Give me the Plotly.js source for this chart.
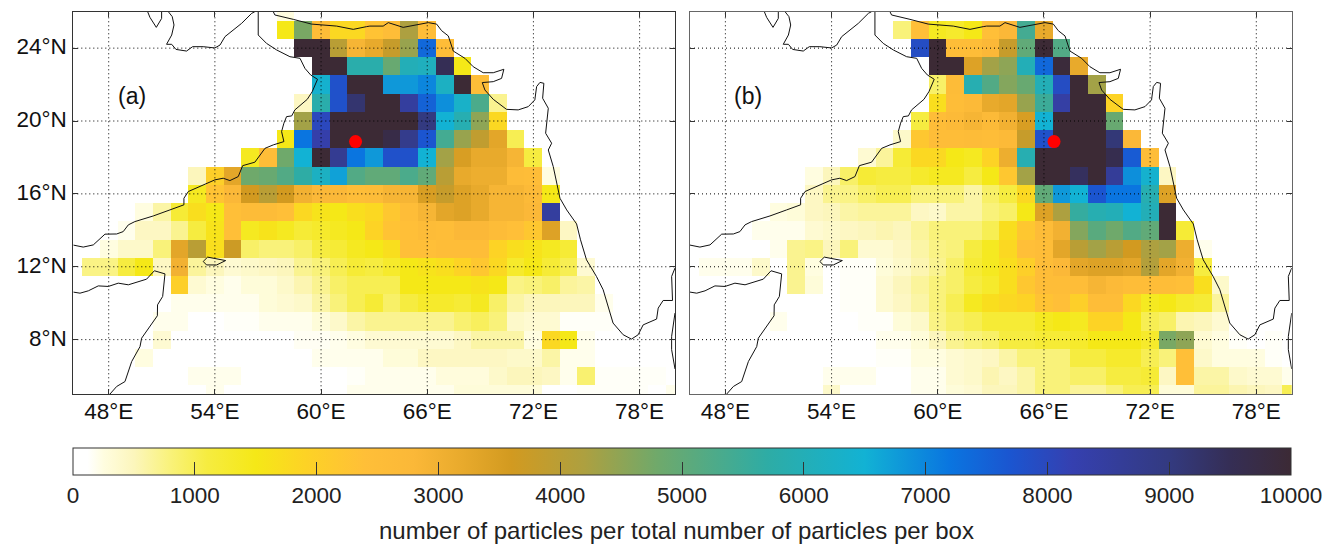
<!DOCTYPE html>
<html><head><meta charset="utf-8">
<script src="https://cdn.plot.ly/plotly-3.0.1.min.js"></script>
<style>html,body{margin:0;padding:0;background:#fff}</style></head>
<body><div id="chart" style="width:1327px;height:544px"></div>
<script>
const lons=[];for(let v=46;v<=80;v++)lons.push(v);
const lats=[];for(let v=5;v<=26;v++)lats.push(v);
const lonTicks=[48,54,60,66,72,78];
const lonLabels=['48°E','54°E','60°E','66°E','72°E','78°E'];
const latTicks=[8,12,16,20,24];
const latLabels=['8°N','12°N','16°N','20°N','24°N'];
const barTicks=[0,1000,2000,3000,4000,5000,6000,7000,8000,9000,10000];

// each row: latitude, first longitude, then the box values eastward
const rowsA=[
[26,58,[250]],
[25,58,[1500,4700,2500,1800,1800,2300,2500,4200,2500]],
[24,59,[10000,10000,4000,2900,3200,3800,4400,7400,2500]],
[23,60,[10000,10000,5800,5800,4900,6000,6100,9500,1500]],
[22,60,[6400,7800,10000,10000,6800,6800,7000,6200,10000,2500]],
[21,59,[450,5800,7800,9200,10000,10000,8500,7500,6900,6300,5300,700]],
[20,59,[4300,8000,10000,10000,10000,10000,10000,9000,6500,5900,4500,1800]],
[19,58,[1500,7200,8300,10000,10000,10000,9700,8800,7700,5400,4400,3900,3300,1000]],
[18,56,[1400,2500,4800,6500,10000,8700,7200,6800,7800,7800,6500,4300,3500,3200,3200,2900,1100]],
[17,53,[500,2000,3300,4800,4900,5200,5700,6200,6700,5200,5000,5000,5300,5000,4000,3200,3100,3100,2600,2500,250]],
[16,53,[1400,2300,2800,3600,4000,3600,3000,2800,2800,2500,2600,2900,2900,3500,3800,3400,3200,2900,2900,2700,1500]],
[15,50,[250,600,1200,1700,1500,2400,2600,2600,2400,1800,1600,1500,1700,1800,2200,2500,2900,3300,3400,3200,2900,2900,2800,8500]],
[14,49,[200,450,450,700,1100,1600,2400,1400,1600,1400,1200,1300,1400,1500,1900,2300,2400,2600,2500,2800,2800,2600,2400,2200,3400,450]],
[13,48,[250,400,400,800,3300,4000,1700,3700,900,800,800,900,1100,1200,1400,1500,1700,2400,2400,2500,2500,2500,1900,1700,1600,1400,1200]],
[12,47,[750,750,1100,1500,450,3000,650,500,350,400,450,500,700,800,1000,1200,1100,1300,1500,1600,1700,1900,2200,1800,1300,1500,1200,1000,350]],
[11,52,[2000,350,250,200,300,300,400,550,700,900,1000,1000,1000,1500,1500,1500,1500,1600,1500,750,800,900,650,600]],
[10,52,[200,200,200,200,200,300,350,400,600,800,1000,1200,900,1100,1300,1300,1200,1400,900,600,500,500,500,500,200]],
[9,51,[200,200,0,0,150,150,200,200,200,300,400,600,700,700,700,700,700,850,950,800,400,350,350,150,150,150]],
[8,51,[350,0,0,0,0,0,0,0,170,170,200,250,350,350,350,350,350,450,600,600,600,250,1800,1500,200]],
[7,50,[250,0,0,0,0,0,0,0,0,0,200,200,200,200,300,300,450,450,450,450,450,400,400,600,200,200]],
[6,53,[200,200,200,0,0,0,0,0,0,150,200,200,200,200,280,280,280,400,500,500,450,200,850,150,150,150,150]],
[5,54,[200,0,0,0,0,0,0,0,200,200,200,200,200,200,300,300,300,300,300,0,0,150,150,150,150,0,200,500]]
];
const rowsB=[
[25,58,[800,2400,1400,1300,1500,2400,2800,5400,3200]],
[24,59,[7900,10000,2500,2500,2800,3800,5000,10000,5200]],
[23,60,[10000,10000,3400,4300,4500,6000,7400,9900,3200]],
[22,60,[900,2600,5900,5200,4600,4900,6000,7900,10000,4300]],
[21,60,[1700,2500,2700,3200,3300,4400,5500,8400,10000,10000,1900]],
[20,59,[1100,2500,2700,2900,2700,3000,3500,6500,10000,10000,10000,4900]],
[19,58,[400,2200,2500,2500,2600,2500,2700,3800,7800,10000,10000,10000,9100,2800]],
[18,56,[350,650,1200,1800,1800,1500,1400,1900,3100,5900,10000,10000,10000,10000,9600,7600,2500]],
[17,53,[250,500,900,1200,1100,1100,1300,1400,1400,1100,1500,2200,4300,10000,10000,9400,10000,8600,6900,6400,450]],
[16,53,[450,700,750,900,1000,1000,800,800,800,600,900,1100,1800,5000,6800,6500,7700,7200,7200,5900,3400]],
[15,51,[250,300,450,500,600,650,650,650,450,400,600,600,800,900,1500,3400,4200,5600,5900,6000,6500,6000,10000]],
[14,50,[200,200,200,350,400,450,500,550,500,650,800,800,800,1000,1700,2200,2600,3000,4600,5100,4800,5200,5000,10000,1200]],
[13,51,[200,700,750,500,800,350,350,450,600,750,800,1100,1400,1800,2400,2500,3300,4000,4300,4000,3600,4200,4300,3100,200]],
[12,47,[200,200,200,400,0,700,250,0,150,150,300,400,550,700,900,1200,1400,1700,2000,2500,2800,3300,3400,3400,3300,4100,3300,3000,1100]],
[11,52,[700,300,0,150,150,350,500,650,800,900,1100,1300,1700,2200,2500,2500,2500,2900,2700,2500,2500,2500,2400,1700,400]],
[10,55,[150,150,350,450,600,800,1000,1400,1700,1800,1900,2300,2400,2000,2500,2500,1800,1400,1500,1300,1200,650]],
[9,51,[200,0,0,0,0,150,150,300,400,750,900,1000,1200,1200,1200,1400,1500,1400,1900,1900,1500,1000,900,550,500,350]],
[8,57,[200,200,300,500,700,800,900,1100,1100,1200,1200,1300,1500,1500,1500,1300,4700,4500,350,250,150,0,150]],
[7,57,[150,150,250,250,350,400,450,600,800,800,800,1100,1100,1300,1300,1000,800,2400,400,250,250,250,150]],
[6,54,[200,200,200,0,0,200,200,350,400,550,450,600,800,800,900,900,1100,1100,1200,450,2400,600,600,400,350,350,200]],
[5,54,[400,0,0,0,0,200,200,300,350,500,500,600,800,800,650,650,800,1000,1000,300,300,650,650,550,500,450,1000]]
];

// coastlines as [longitude, latitude] runs
const coastQatar=[[50.20,26],[50.33,25.69],[50.69,25.14],[50.99,25.63],[50.99,26]];
const coastArabiaGulf=[[51.37,26],[51.59,25.73],[51.69,25.27],[51.56,24.72],[51.27,24.21],[51.56,24.21],[51.80,23.93],[52.40,23.84],[52.74,24.08],[53.34,24.08],[54.00,24.01],[54.29,24.17],[54.57,24.63],[55.04,24.99],[55.51,25.36],[56.08,25.91],[56.26,26]];
const coastArabiaSea=[[56.45,26],[56.45,24.72],[56.92,24.26],[57.49,23.90],[58.24,23.53],[58.81,23.44],[59.09,22.89],[59.41,22.53],[59.80,22.29],[59.50,21.61],[59.22,21.19],[58.81,20.88],[58.52,20.61],[58.34,20.28],[58.05,20.24],[57.90,19.88],[57.77,19.42],[57.90,18.87],[57.30,18.69],[56.83,18.50],[56.51,18.05],[56.26,17.74],[55.57,17.55],[55.32,16.95],[54.85,16.73],[54.47,16.86],[54.00,16.77],[53.34,16.49],[52.50,16.13],[52.25,15.76],[52.25,15.40],[51.46,15.12],[50.52,14.79],[49.48,14.48],[49.11,14.30],[48.82,13.93],[48.45,13.80],[47.79,13.79],[47.13,13.20],[46.56,13.08],[46,13.19]];
const coastAsia=[[57.30,26],[57.39,25.82],[58.43,25.58],[59.46,25.32],[60.88,25.21],[61.82,25.03],[62.57,25.18],[62.76,25.21],[63.51,25.21],[63.80,25.40],[64.64,25.14],[65.49,25.32],[66.06,25.40],[66.53,25.32],[66.81,24.96],[67.19,24.67],[67.47,23.84],[68.13,23.44],[68.60,22.98],[69.16,22.65],[69.73,22.65],[70.33,22.84],[70.20,22.34],[69.73,22.16],[69.11,22.11],[69.26,21.70],[69.73,21.19],[70.48,20.64],[71.14,20.61],[71.71,20.79],[72.08,21.16],[72.18,21.89],[72.37,22.12],[72.59,22.07],[72.52,21.25],[72.84,20.70],[72.74,19.88],[72.69,19.33],[73.03,18.78],[72.84,18.41],[73.12,17.50],[73.31,16.59],[73.50,15.76],[73.88,15.12],[74.44,14.35],[74.66,13.48],[75.00,12.38],[75.56,11.47],[75.94,10.74],[76.50,8.91],[77.07,8.27],[77.54,8.03],[77.92,8.27],[78.20,8.81],[78.96,9.13],[79.05,9.73],[79.33,10.15],[79.86,10.15],[79.81,11.47],[80,11.93]];
const coastLanka=[[80,9.46],[79.81,8.18],[79.81,7.45],[80,6.39]];
const coastSomalia=[[46,10.61],[46.38,10.55],[46.85,10.68],[47.41,10.95],[47.98,10.92],[48.54,11.10],[49.11,11.01],[50.14,11.32],[50.58,11.78],[51.18,11.61],[51.05,10.37],[50.76,9.91],[50.75,9.31],[50.33,8.73],[49.86,8.08],[49.77,7.62],[49.30,6.80],[48.92,5.70],[48.45,5.43],[48.07,5.01]];
const coastSocotra=[[53.34,12.29],[53.59,12.53],[54.61,12.34],[54.10,12.10],[53.53,12.10],[53.34,12.29]];
const coasts=[coastQatar,coastArabiaGulf,coastArabiaSea,coastAsia,coastLanka,coastSomalia,coastSocotra];

const releaseA=[61.95,18.87];
const releaseB=[66.57,18.87];

const colorStops=[[0,'#ffffff'],[0.012,'#ffffff'],[0.025,'#fffde0'],[0.05,'#fcf6bc'],[0.08,'#f9f27a'],[0.11,'#f6ec40'],[0.15,'#f5e817'],[0.19,'#fdd325'],[0.24,'#ffbf38'],[0.28,'#fbb838'],[0.32,'#e8aa2c'],[0.36,'#d29a20'],[0.42,'#ada040'],[0.48,'#6fa96b'],[0.57,'#2eaca5'],[0.65,'#12b2d4'],[0.72,'#0a75e0'],[0.77,'#1b55d0'],[0.82,'#3540b0'],[0.90,'#333a80'],[0.95,'#352e55'],[1,'#3c2a35']];

function matrix(rows){
  const z=lats.map(()=>lons.map(()=>null));
  rows.forEach(([lat,first,vals])=>{
    vals.forEach((v,i)=>{ if(v>0) z[lats.indexOf(lat)][lons.indexOf(first+i)]=v; });
  });
  return z;
}
function flat(k){
  const out=[];
  coasts.forEach(run=>{run.forEach(p=>out.push(p[k]));out.push(null);});
  return out;
}
const gridX=[],gridY=[];
lonTicks.forEach(v=>{gridX.push(v,v,null);gridY.push(5,26,null);});
latTicks.forEach(v=>{gridX.push(46,80,null);gridY.push(v,v,null);});

function panel(rows,dot,xa,ya){
  return [
   {type:'heatmap',x:lons,y:lats,z:matrix(rows),coloraxis:'coloraxis',xaxis:xa,yaxis:ya,hoverinfo:'skip'},
   {type:'scatter',mode:'lines',x:gridX,y:gridY,xaxis:xa,yaxis:ya,line:{color:'#000',width:1,dash:'1px,3px'},hoverinfo:'skip',showlegend:false},
   {type:'scatter',mode:'lines',x:flat(0),y:flat(1),xaxis:xa,yaxis:ya,line:{color:'#111',width:1},hoverinfo:'skip',showlegend:false},
   {type:'scatter',mode:'markers',x:[dot[0]],y:[dot[1]],xaxis:xa,yaxis:ya,marker:{color:'#ff0000',size:13},hoverinfo:'skip',showlegend:false}
  ];
}
const FONT='"Liberation Sans", Arial, sans-serif';
const common={ticks:'inside',ticklen:5,tickcolor:'#333',tickwidth:1,showline:true,linecolor:'#333',linewidth:1,mirror:'ticks',showgrid:false,zeroline:false,layer:'above traces',tickfont:{family:FONT,size:22.5,color:'#111'}};
const xcommon=Object.assign({},common,{range:[46,80],tickmode:'array',tickvals:lonTicks,ticktext:lonLabels,ticklabelstandoff:-3});
const ycommon=Object.assign({},common,{range:[5,26],tickmode:'array',tickvals:latTicks,ticktext:latLabels,ticklabelshift:-2,ticklabelstandoff:1});
const yDom=[1-394.3/544,1-11.7/544];
const layout={
 width:1327,height:544,margin:{l:0,r:0,t:0,b:0},paper_bgcolor:'#fff',plot_bgcolor:'#fff',showlegend:false,
 font:{family:FONT,color:'#111'},
 xaxis:Object.assign({},xcommon,{domain:[73.3/1327,675/1327],anchor:'y'}),
 yaxis:Object.assign({},ycommon,{domain:yDom,anchor:'x'}),
 xaxis2:Object.assign({},xcommon,{domain:[690/1327,1291.7/1327],anchor:'y2',linecolor:'#666'}),
 yaxis2:Object.assign({},ycommon,{domain:yDom,anchor:'x2',showticklabels:false,linecolor:'#666'}),
 coloraxis:{cmin:0,cmax:10000,colorscale:colorStops,colorbar:{
   orientation:'h',lenmode:'pixels',len:1218,thicknessmode:'pixels',thickness:27.4,
   x:682/1327,xanchor:'center',y:1-448.3/544,yanchor:'top',xpad:0,ypad:0,
   outlinecolor:'#333',outlinewidth:1,ticks:'inside',ticklen:13,tickcolor:'#333',tickwidth:1,
   tickmode:'array',tickvals:barTicks,ticktext:barTicks.map(String),
   tickfont:{family:FONT,size:22.5,color:'#222'}
 }},
 annotations:[
  {xref:'x',yref:'y',x:49.3,y:21.4,text:'(a)',showarrow:false,font:{family:FONT,size:23,color:'#111'}},
  {xref:'x2',yref:'y2',x:49.3,y:21.4,text:'(b)',showarrow:false,font:{family:FONT,size:23,color:'#111'}},
  {xref:'paper',yref:'paper',x:676.5/1327,y:1-530/544,xanchor:'center',yanchor:'middle',text:'number of particles per total number of particles per box',showarrow:false,font:{family:FONT,size:24,color:'#222'}}
 ]
};
Plotly.newPlot('chart',[...panel(rowsA,releaseA,'x','y'),...panel(rowsB,releaseB,'x2','y2')],layout,{displayModeBar:false,staticPlot:true});
</script></body></html>
